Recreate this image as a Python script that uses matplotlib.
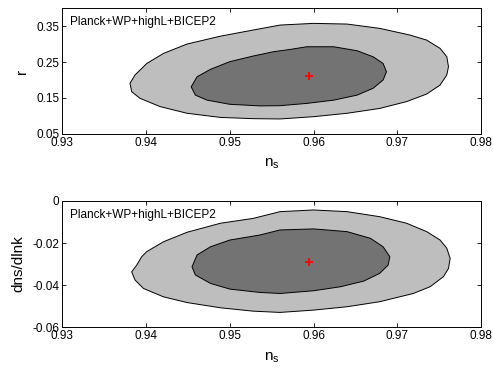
import matplotlib
matplotlib.use("Agg")
import matplotlib.pyplot as plt

plt.rcParams['font.family'] = ['Liberation Sans', 'DejaVu Sans']
plt.rcParams['mathtext.default'] = 'regular'

label = 'Planck+WP+highL+BICEP2'

# ns - r panel: outer (95%) and inner (68%) contours, traced clockwise from the left tip
r_outer_ns = [0.9381, 0.9387, 0.9401, 0.9421, 0.9449, 0.9489, 0.9528, 0.9560, 0.9600,
              0.9640, 0.9679, 0.9715, 0.9735, 0.9751, 0.9759, 0.9761, 0.9759, 0.9751,
              0.9735, 0.9711, 0.9679, 0.9640, 0.9600, 0.9560, 0.9528, 0.9489, 0.9449,
              0.9417, 0.9393, 0.9383]
r_outer_r = [0.191, 0.214, 0.246, 0.274, 0.300, 0.322, 0.339, 0.3528, 0.3575,
             0.3556, 0.3436, 0.325, 0.311, 0.288, 0.2647, 0.237, 0.214, 0.186,
             0.161, 0.140, 0.121, 0.1075, 0.098, 0.0917, 0.0925, 0.096, 0.1075,
             0.126, 0.149, 0.1675]
r_inner_ns = [0.9454, 0.9461, 0.9477, 0.9500, 0.9528, 0.9552, 0.9572, 0.9592, 0.9624,
              0.9652, 0.9671, 0.9683, 0.9687, 0.9683, 0.9671, 0.9652, 0.9624, 0.9592,
              0.9560, 0.9536, 0.9500, 0.9473, 0.9459]
r_inner_r = [0.181, 0.209, 0.2297, 0.251, 0.2667, 0.2786, 0.285, 0.2925, 0.2925,
             0.2814, 0.2647, 0.246, 0.223, 0.200, 0.177, 0.158, 0.144, 0.135,
             0.1286, 0.128, 0.1325, 0.144, 0.158]
r_best = (0.9595, 0.211)

# ns - dns/dlnk panel
a_outer_ns = [0.9383, 0.9389, 0.9395, 0.9401, 0.9421, 0.9449, 0.9489, 0.9528, 0.9560,
              0.9600, 0.9640, 0.9679, 0.9711, 0.9735, 0.9751, 0.9759, 0.9763, 0.9761,
              0.9755, 0.9739, 0.9719, 0.9679, 0.9640, 0.9600, 0.9560, 0.9528, 0.9489,
              0.9449, 0.9421, 0.9397, 0.9387]
a_outer_a = [-0.0337, -0.0305, -0.0265, -0.0241, -0.0194, -0.0149, -0.0106, -0.0083, -0.0051,
             -0.0043, -0.0051, -0.0075, -0.0106, -0.0146, -0.0186, -0.0225, -0.0273, -0.0321,
             -0.0360, -0.0408, -0.0440, -0.0479, -0.0503, -0.0519, -0.0530, -0.0524, -0.0508,
             -0.0483, -0.0456, -0.0416, -0.0376]
a_inner_ns = [0.9455, 0.9461, 0.9477, 0.9500, 0.9536, 0.9560, 0.9600, 0.9640, 0.9668,
              0.9683, 0.9691, 0.9689, 0.9679, 0.9660, 0.9632, 0.9600, 0.9560, 0.9536,
              0.9500, 0.9477, 0.9459]
a_inner_a = [-0.0313, -0.0257, -0.0218, -0.0186, -0.0162, -0.0138, -0.0133, -0.0146, -0.0178,
             -0.0218, -0.0265, -0.0305, -0.0344, -0.0381, -0.0408, -0.0427, -0.0440, -0.0435,
             -0.0419, -0.0392, -0.0352]
a_best = (0.9595, -0.0292)

fig = plt.figure(figsize=(4.93, 3.68), dpi=100)
ax1 = fig.add_axes([0.126, 0.636, 0.850, 0.342])
ax2 = fig.add_axes([0.126, 0.111, 0.850, 0.343])


def panel(ax, ox, oy, ix, iy, best, ylim, yticks, yticklabels, ylabel):
    ax.fill(ox, oy, facecolor='#bebebe', edgecolor='black', linewidth=0.7)
    ax.fill(ix, iy, facecolor='#737373', edgecolor='black', linewidth=0.7)
    ax.plot(best[0], best[1], '+', color='red', markersize=6, markeredgewidth=1.3)
    ax.set_xlim(0.93, 0.98)
    ax.set_ylim(*ylim)
    ax.set_xticks([0.93, 0.94, 0.95, 0.96, 0.97, 0.98])
    ax.set_xticklabels(['0.93', '0.94', '0.95', '0.96', '0.97', '0.98'])
    ax.set_yticks(yticks)
    ax.set_yticklabels(yticklabels)
    ax.tick_params(direction='in', length=3, width=0.6, top=True, right=True,
                   labelsize=8.5, pad=2)
    for s in ax.spines.values():
        s.set_linewidth(0.7)
    ax.set_xlabel('n$_s$', fontsize=11, labelpad=6)
    ax.set_ylabel(ylabel, fontsize=11, labelpad=5)
    ax.text(0.018, 0.94, label, transform=ax.transAxes, fontsize=8.5,
            ha='left', va='top')


panel(ax1, r_outer_ns, r_outer_r, r_inner_ns, r_inner_r, r_best,
      (0.05, 0.40), [0.05, 0.15, 0.25, 0.35], ['0.05', '0.15', '0.25', '0.35'], 'r')
panel(ax2, a_outer_ns, a_outer_a, a_inner_ns, a_inner_a, a_best,
      (-0.06, 0.0), [-0.06, -0.04, -0.02, 0.0], ['-0.06', '-0.04', '-0.02', '0'], 'dns/dlnk')

fig.savefig('out.png', dpi=100)
